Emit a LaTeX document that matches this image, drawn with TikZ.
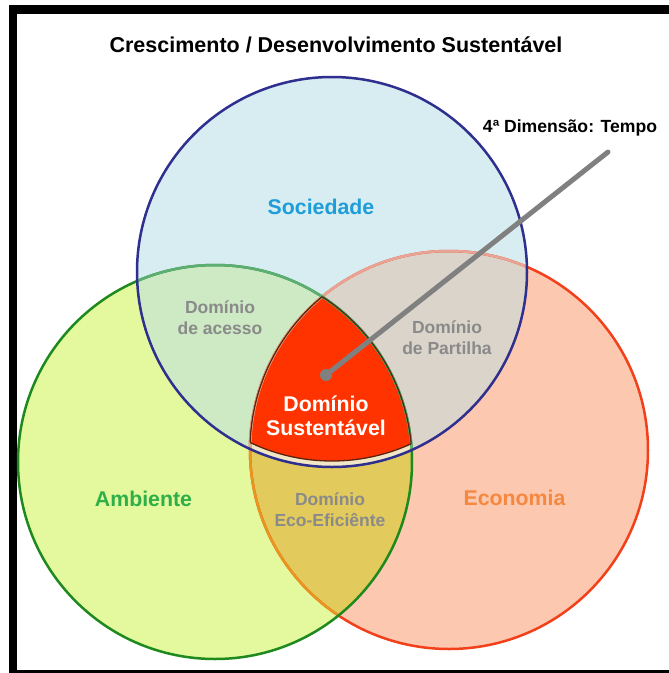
\documentclass[tikz,border=0pt]{standalone}
\usepackage{fontspec}
\setmainfont{Liberation Sans}
\begin{document}
\begin{tikzpicture}[x=1pt,y=-1pt]
% palette
\definecolor{socfill}{HTML}{D7EDF2}
\definecolor{ambfill}{HTML}{E4F99E}
\definecolor{ecofill}{HTML}{FCC8B0}
\definecolor{socambfill}{HTML}{CDEAC4}
\definecolor{socecofill}{HTML}{DBD4CB}
\definecolor{ambecofill}{HTML}{E2CB5C}
\definecolor{triplefill}{HTML}{F1E7C6}
\definecolor{corefill}{HTML}{FF3300}
\definecolor{socline}{HTML}{2E2F8E}
\definecolor{ambline}{HTML}{1E8A1E}
\definecolor{ambsoftline}{HTML}{5DAE72}
\definecolor{ecoline}{HTML}{F2401A}
\definecolor{ecosoftline}{HTML}{E8A494}
\definecolor{ecoambline}{HTML}{E8961E}
\definecolor{coreline}{HTML}{5A2410}
\definecolor{soctext}{HTML}{1E9DD8}
\definecolor{ambtext}{HTML}{2EAF48}
\definecolor{ecotext}{HTML}{F5883E}
\definecolor{subtext}{HTML}{8A8A8A}
\definecolor{axisgray}{HTML}{808080}
\tikzset{
  ring/.style={line width=2.5},
  coreedge/.style={line width=1.3, coreline},
  mainlabel/.style={inner sep=0, align=center, font=\fontsize{21.3}{24}\selectfont\bfseries},
  sublabel/.style={inner sep=0, align=center, text=subtext, font=\fontsize{17.5}{21}\selectfont\bfseries},
}
\def\circSoc{(332,272) circle [radius=195]}
\def\circAmb{(215,462) circle [radius=197]}
\def\circEco{(449,450) circle [radius=199]}
% the sustainable core sits slightly inside the society disc
\def\circCore{(332,271) circle [radius=190]}
\useasboundingbox (0,0) rectangle (669,673);
\fill[white] (0,0) rectangle (669,673);
% frame
\fill[black] (9,5) rectangle (669,14);
\fill[black] (9,5) rectangle (17,673);
\fill[black] (9,670) rectangle (669,673);
% discs and their overlaps
\fill[ecofill] \circEco;
\fill[ambfill] \circAmb;
\begin{scope}\clip \circAmb; \fill[ambecofill] \circEco; \end{scope}
\fill[socfill] \circSoc;
\begin{scope}\clip \circSoc; \fill[socecofill] \circEco; \fill[socambfill] \circAmb; \end{scope}
\begin{scope}\clip \circSoc; \clip \circAmb; \fill[triplefill] \circEco; \end{scope}
\begin{scope}\clip \circCore; \clip \circAmb; \fill[corefill] \circEco; \end{scope}
% outlines
\draw[ring, ecoline] \circEco;
\begin{scope}\clip \circAmb; \draw[ring, ecoambline] \circEco; \end{scope}
\begin{scope}\clip \circSoc; \draw[ring, ecosoftline] \circEco; \end{scope}
\draw[ring, ambline] \circAmb;
\begin{scope}\clip \circSoc; \draw[ring, ambsoftline] \circAmb; \end{scope}
\begin{scope}\clip \circCore; \clip \circAmb; \draw[coreedge] \circEco; \end{scope}
\begin{scope}\clip \circCore; \clip \circEco; \draw[coreedge] \circAmb; \end{scope}
\begin{scope}\clip \circAmb; \clip \circEco; \draw[coreedge] \circCore; \end{scope}
\draw[ring, socline] \circSoc;
% labels
\node[inner sep=0, font=\fontsize{21.5}{24}\selectfont\bfseries] (title) at (336,45) {Crescimento / Desenvolvimento Sustentável};
\node[inner sep=0, font=\fontsize{17.6}{20}\selectfont\bfseries] (time) at (570,128) {4ª Dimensão: Tempo};
\node[mainlabel, text=soctext] (soc) at (321,207) {Sociedade};
\node[mainlabel, text=ambtext] (amb) at (143.5,499) {Ambiente};
\node[mainlabel, text=ecotext] (eco) at (514.5,498) {Economia};
\node[sublabel] (acc) at (220,317.5) {Domínio\\de acesso};
\node[sublabel] (par) at (447,337.5) {Domínio\\de Partilha};
\node[sublabel] (ecoef) at (330,510) {Domínio\\Eco-Eficiênte};
% time axis
\node[circle, fill=axisgray, inner sep=0, minimum size=12] (dot) at (326,375) {};
\coordinate (tip) at (608,152);
\draw[axisgray, line width=5, line cap=round] (dot.center) -- (tip);
\node[mainlabel, text=white] (core) at (326,416) {Domínio\\Sustentável};
\end{tikzpicture}
\end{document}
